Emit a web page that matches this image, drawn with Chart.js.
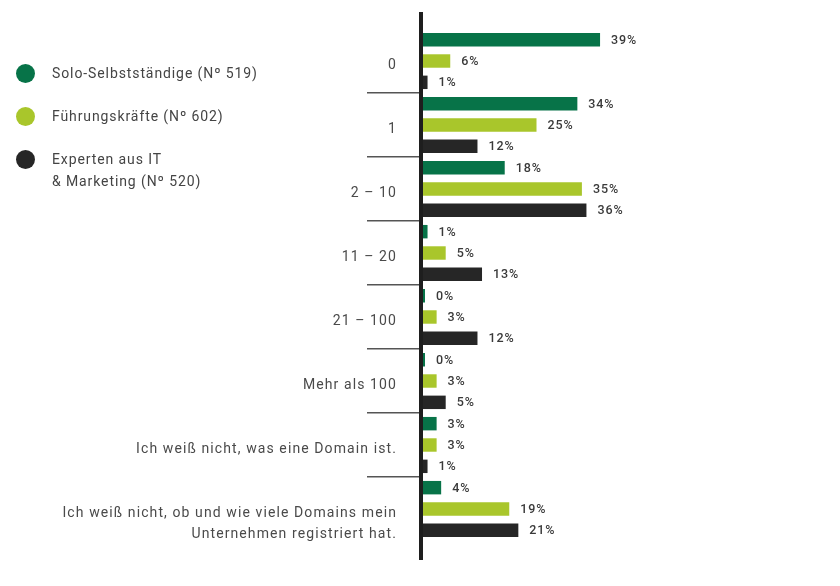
<!DOCTYPE html>
<html>
<head>
<meta charset="utf-8">
<script src="https://cdn.jsdelivr.net/npm/chart.js@4"></script>
<style>
  html, body { margin: 0; padding: 0; background: #fff; }
  #wrap { position: relative; width: 840px; height: 586px; }
  canvas { position: absolute; left: 0; top: 0; }
  #legend { position: absolute; left: 0; top: 0; width: 340px; height: 200px; font-family: Roboto, sans-serif; font-size: 14px; color: #444; letter-spacing: 0.9px; }
  .item { position: absolute; left: 16px; display: flex; align-items: flex-start; white-space: nowrap; }
  .dot { width: 19px; height: 19px; border-radius: 50%; margin-right: 17px; flex: none; }
  .txt { line-height: 21.5px; margin-top: -1px; }
</style>
</head>
<body>
<div id="wrap">
  <canvas id="c" width="840" height="586"></canvas>
  <div id="legend"></div>
</div>
<script>
const categories = [
  '0',
  '1',
  '2 – 10',
  '11 – 20',
  '21 – 100',
  'Mehr als 100',
  'Ich weiß nicht, was eine Domain ist.',
  ['', 'Ich weiß nicht, ob und wie viele Domains mein', 'Unternehmen registriert hat.']
];
const seriesNames = [
  ['Solo-Selbstständige (Nº 519)'],
  ['Führungskräfte (Nº 602)'],
  ['Experten aus IT', '& Marketing (Nº 520)']
];
const soloValues = [39, 34, 18, 1, 0, 0, 3, 4];
const fuehrungValues = [6, 25, 35, 5, 3, 3, 3, 19];
const expertenValues = [1, 12, 36, 13, 12, 5, 1, 21];
const seriesColors = ['#077348', '#a9c62b', '#262626'];

const datasets = [soloValues, fuehrungValues, expertenValues].map((vals, i) => ({
  label: seriesNames[i].join(' '),
  data: vals,
  backgroundColor: seriesColors[i],
  barPercentage: 0.63,
  categoryPercentage: 1.0,
  minBarLength: 2
}));

// HTML legend
const legendTops = [64, 107, 150];
const legend = document.getElementById('legend');
seriesNames.forEach((lines, i) => {
  const item = document.createElement('div');
  item.className = 'item';
  item.style.top = legendTops[i] + 'px';
  const dot = document.createElement('div');
  dot.className = 'dot';
  dot.style.background = seriesColors[i];
  const txt = document.createElement('div');
  txt.className = 'txt';
  txt.innerHTML = lines.join('<br>');
  item.appendChild(dot);
  item.appendChild(txt);
  legend.appendChild(item);
});

const spacing = {
  id: 'spacing',
  beforeUpdate(chart) { try { chart.ctx.letterSpacing = '1.1px'; } catch (e) {} },
  beforeLayout(chart) { try { chart.ctx.letterSpacing = '1.1px'; } catch (e) {} },
  beforeDraw(chart) { try { chart.ctx.letterSpacing = '1.1px'; } catch (e) {} }
};

const axisLine = {
  id: 'axisLine',
  afterDatasetsDraw(chart) {
    const { ctx, chartArea } = chart;
    const x0 = chart.scales.x.getPixelForValue(0);
    ctx.save();
    ctx.fillStyle = '#1e1e1e';
    ctx.fillRect(x0 - 4, chartArea.top - 17, 4, chartArea.bottom - chartArea.top + 36);
    ctx.restore();
  }
};

const valueLabels = {
  id: 'valueLabels',
  afterDatasetsDraw(chart) {
    const { ctx } = chart;
    ctx.save();
    ctx.font = '500 12.5px Roboto, sans-serif';
    ctx.fillStyle = '#3a3a3a';
    ctx.textBaseline = 'middle';
    ctx.textAlign = 'left';
    try { ctx.letterSpacing = '0.9px'; } catch (e) {}
    chart.data.datasets.forEach((ds, di) => {
      const meta = chart.getDatasetMeta(di);
      meta.data.forEach((bar, i) => {
        ctx.fillText(ds.data[i] + '%', bar.x + 11, bar.y + 1);
      });
    });
    ctx.restore();
  }
};

new Chart(document.getElementById('c'), {
  type: 'bar',
  data: { labels: categories, datasets },
  options: {
    indexAxis: 'y',
    responsive: false,
    animation: false,
    layout: { padding: { left: 0, right: 190, top: 29, bottom: 45 } },
    plugins: { legend: { display: false }, tooltip: { enabled: false } },
    scales: {
      x: { display: false, min: 0, max: 50 },
      y: {
        afterFit(scale) { scale.width = 423; },
        border: { display: false },
        grid: {
          offset: true,
          drawOnChartArea: false,
          drawTicks: true,
          tickLength: 56,
          lineWidth: 1.5,
          color: (ctx) => (ctx.index === undefined || ctx.index === 0) ? 'rgba(0,0,0,0)' : '#555'
        },
        ticks: {
          autoSkip: false,
          padding: -30,
          labelOffset: 4,
          color: '#4a4a4a',
          font: { family: 'Roboto, sans-serif', size: 14, lineHeight: 1.57 }
        }
      }
    }
  },
  plugins: [spacing, axisLine, valueLabels]
});
</script>
</body>
</html>
